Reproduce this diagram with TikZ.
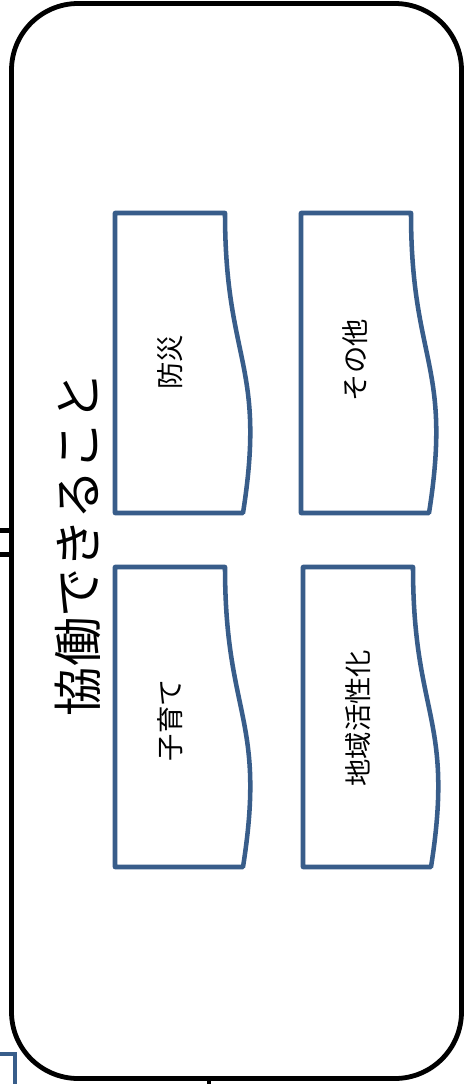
\documentclass[tikz,border=0pt]{standalone}
\usepackage{fontspec}
\setmainfont{Noto Sans CJK JP}
\definecolor{docblue}{RGB}{56,93,138}
\begin{document}
\begin{tikzpicture}[x=0.75pt,y=-0.75pt,
  frame/.style={draw=black,line width=3.6pt,rounded corners=50pt},
  docline/.style={draw=docblue,line width=3.4pt,line join=round,fill=white},
  blackline/.style={draw=black,line width=3.6pt},
  blueline/.style={draw=docblue,line width=3.2pt},
  lbl/.style={rotate=90,font=\fontsize{20.5}{22}\selectfont,inner sep=0pt},
  ttl/.style={rotate=90,font=\fontsize{37}{40}\selectfont,inner sep=0pt},
  docshape/.pic={\path[docline] (0,0) -- (110,0) .. controls (110,150) and (151.7,150) .. (128,300) -- (0,300) -- cycle;}]
\useasboundingbox (0,0) rectangle (464,1084);
\fill[white] (0,0) rectangle (464,1084);
% connectors partly visible
\coordinate (s1a) at (0,530.5);
\coordinate (s1b) at (11.5,530.5);
\coordinate (s2a) at (0,554.5);
\coordinate (s2b) at (11.5,554.5);
\draw[blackline] (s1a) -- (s1b);
\draw[blackline] (s2a) -- (s2b);
\coordinate (b1) at (0,1054);
\coordinate (b2) at (15,1054);
\coordinate (b3) at (15,1086);
\draw[blueline] (b1) -- (b2) -- (b3);
\coordinate (t1) at (209,1078);
\coordinate (t2) at (209,1086);
\draw[blackline] (t1) -- (t2);
% frame
\draw[frame] (11.5,3.5) rectangle (461.5,1078.5);
% document shapes
\pic (bosai) at (115,213) {docshape};
\pic (sonota) at (301,213) {docshape};
\pic (kosodate) at (115,567) {docshape};
\pic (chiiki) at (303,567) {docshape};
\node[lbl] (lbosai) at (170,362) {防災};
\node[lbl] (lsonota) at (355,360) {その他};
\node[lbl] (lkosodate) at (170,720) {子育て};
\node[lbl] (lchiiki) at (358,718) {地域活性化};
\node[ttl] (title) at (78,544) {協働できること};
\end{tikzpicture}
\end{document}
